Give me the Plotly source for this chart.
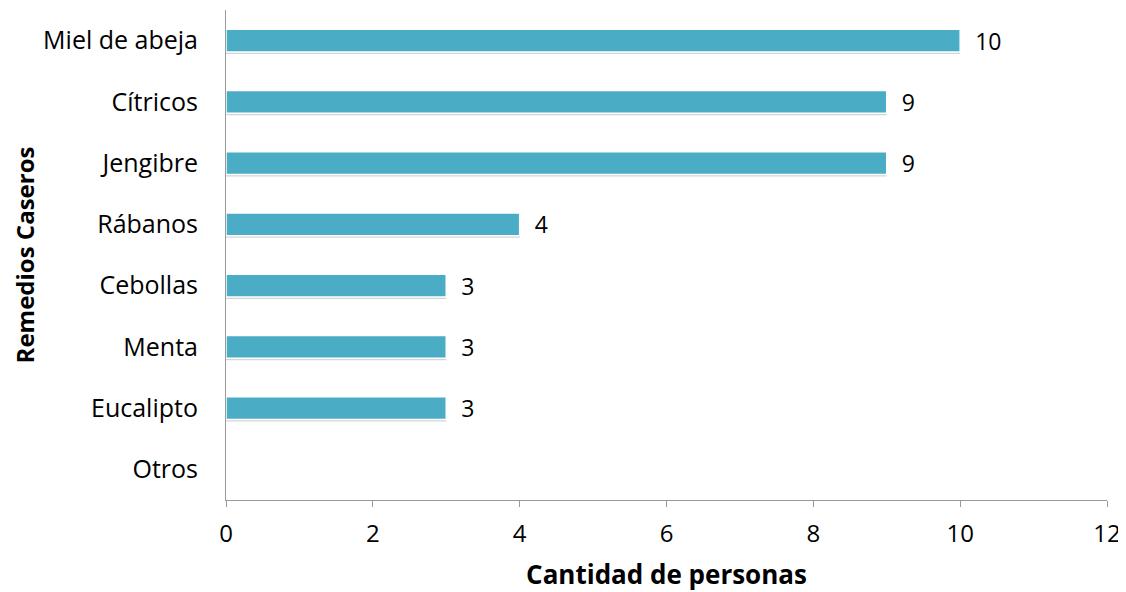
import plotly.graph_objects as go

remedios = ['Miel de abeja', 'Cítricos', 'Jengibre', 'Rábanos',
            'Cebollas', 'Menta', 'Eucalipto', 'Otros']
personas = [10, 9, 9, 4, 3, 3, 3, 0]
x_ticks = [0, 2, 4, 6, 8, 10, 12]

bar_color = '#4BACC6'
font_family = 'Open Sans, Liberation Sans, sans-serif'

etiquetas = ['  ' + str(v) if v > 0 else '' for v in personas]

fig = go.Figure()

# sombra suave debajo de cada barra
fig.add_trace(go.Bar(
    y=remedios,
    x=personas,
    orientation='h',
    width=0.37,
    offset=-0.15,
    marker=dict(color='rgba(0,0,0,0.17)', line=dict(width=0)),
    hoverinfo='skip',
    showlegend=False
))

fig.add_trace(go.Bar(
    y=remedios,
    x=personas,
    orientation='h',
    width=0.37,
    offset=-0.185,
    marker=dict(color=bar_color, line=dict(color='white', width=1.5)),
    text=etiquetas,
    textposition='outside',
    constraintext='none',
    textfont=dict(size=23, color='black', family=font_family),
    cliponaxis=False,
    showlegend=False
))

# the page body adds an 8px margin, so the figure is a bit smaller
fig.update_layout(
    width=1118,
    height=584,
    barmode='overlay',
    plot_bgcolor='white',
    paper_bgcolor='white',
    margin=dict(l=218, r=19, t=2, b=92),
    font=dict(family=font_family, size=23, color='black'),
    xaxis=dict(
        range=[0, 12],
        tickvals=x_ticks,
        automargin=False,
        showgrid=False,
        zeroline=False,
        showline=True,
        linecolor='#9a9a9a',
        linewidth=1,
        ticks='outside',
        ticklen=6,
        tickcolor='#9a9a9a',
        ticklabelstandoff=6,
        tickfont=dict(size=24),
        title=dict(text='<b>Cantidad de personas</b>', font=dict(size=26), standoff=20),
    ),
    yaxis=dict(
        autorange='reversed',
        automargin=False,
        showgrid=False,
        zeroline=False,
        showline=True,
        linecolor='#9a9a9a',
        linewidth=1,
        ticks='',
        ticklabelstandoff=22,
        tickfont=dict(size=25),
        title=dict(text='<b>Remedios Caseros</b>', font=dict(size=24), standoff=12),
    ),
)

fig.write_html('out.html')
